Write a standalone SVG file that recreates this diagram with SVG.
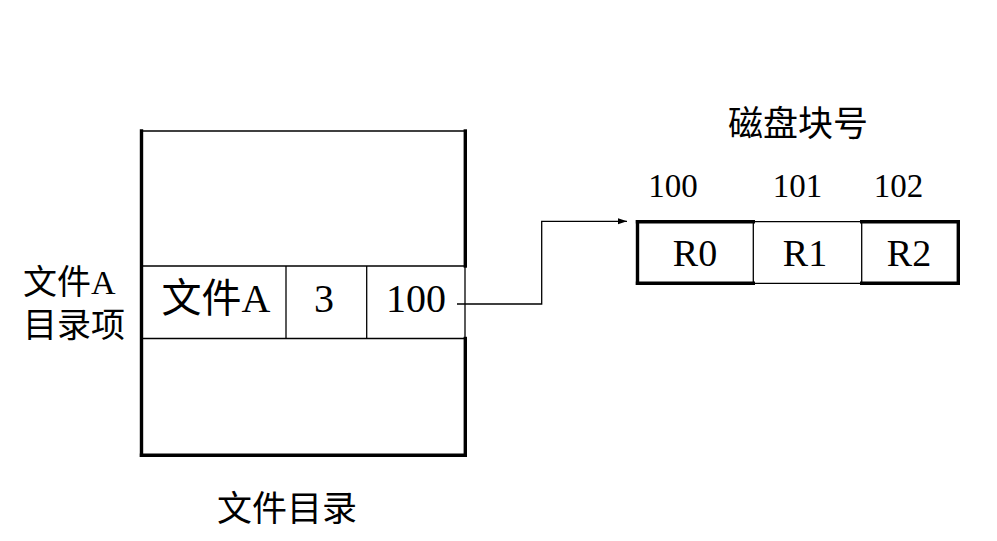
<svg xmlns="http://www.w3.org/2000/svg" width="997" height="541" viewBox="0 0 997 541">
<style>
.thick{stroke:#000;stroke-width:3.4;fill:none;stroke-linecap:square}
.thin{stroke:#000;stroke-width:1.3;fill:none}
.t{font-family:"Liberation Serif","Noto Sans CJK SC",serif;fill:#000}
.c{text-anchor:middle}
</style>
<defs>
<marker id="arrow" markerWidth="10" markerHeight="8" refX="9" refY="3" orient="auto" markerUnits="userSpaceOnUse">
<path d="M0,0 L9,3 L0,6 Z" fill="#000"/>
</marker>
</defs>
<rect width="997" height="541" fill="#fff"/>

<g id="directory">
<line class="thin" x1="141" y1="131" x2="465" y2="131"/>
<line class="thick" x1="141.5" y1="131" x2="141.5" y2="455.3"/>
<line class="thick" x1="141.5" y1="455.3" x2="465.3" y2="455.3"/>
<line class="thick" x1="465.3" y1="131" x2="465.3" y2="266"/>
<line class="thick" x1="465.3" y1="338.5" x2="465.3" y2="455.3"/>
<text class="t c" x="287" y="521" font-size="35">文件目录</text>
</g>

<g id="entry-A">
<line class="thin" x1="141" y1="266" x2="465" y2="266"/>
<line class="thin" x1="141" y1="338.5" x2="465" y2="338.5"/>
<line class="thin" x1="465" y1="266" x2="465" y2="338.5"/>
<line class="thin" x1="286" y1="266" x2="286" y2="338.5"/>
<line class="thin" x1="366.7" y1="266" x2="366.7" y2="338.5"/>
<text class="t c" x="216" y="312" font-size="40">文件A</text>
<text class="t c" x="324" y="312" font-size="40">3</text>
<text class="t c" x="416" y="312" font-size="40">100</text>
</g>

<g id="entry-label">
<text class="t" x="23" y="294" font-size="34">文件A</text>
<text class="t" x="23" y="337" font-size="34">目录项</text>
</g>

<g id="disk-blocks">
<text class="t c" x="798" y="136" font-size="35">磁盘块号</text>
<line class="thick" x1="637.5" y1="221.7" x2="753.3" y2="221.7"/>
<line class="thick" x1="637.5" y1="283.3" x2="753.3" y2="283.3"/>
<line class="thin" x1="753.3" y1="221.7" x2="861.7" y2="221.7"/>
<line class="thin" x1="753.3" y1="283.3" x2="861.7" y2="283.3"/>
<line class="thick" x1="861.7" y1="221.7" x2="958.3" y2="221.7"/>
<line class="thick" x1="861.7" y1="283.3" x2="958.3" y2="283.3"/>
<line class="thick" x1="637.5" y1="221.7" x2="637.5" y2="283.3"/>
<line class="thick" x1="958.3" y1="221.7" x2="958.3" y2="283.3"/>
<line class="thin" x1="753.3" y1="221.7" x2="753.3" y2="283.3"/>
<line class="thin" x1="861.7" y1="221.7" x2="861.7" y2="283.3"/>
<text class="t c" x="695" y="266" font-size="38">R0</text>
<text class="t c" x="805" y="266" font-size="38">R1</text>
<text class="t c" x="909" y="266" font-size="38">R2</text>
<text class="t c" x="673" y="197" font-size="33">100</text>
<text class="t c" x="797.5" y="197" font-size="33">101</text>
<text class="t c" x="898.5" y="197" font-size="33">102</text>
</g>

<g id="connectors">
<polyline class="thin" points="457,304 541.7,304 541.7,221.3 627,221.3" marker-end="url(#arrow)"/>
</g>
</svg>
